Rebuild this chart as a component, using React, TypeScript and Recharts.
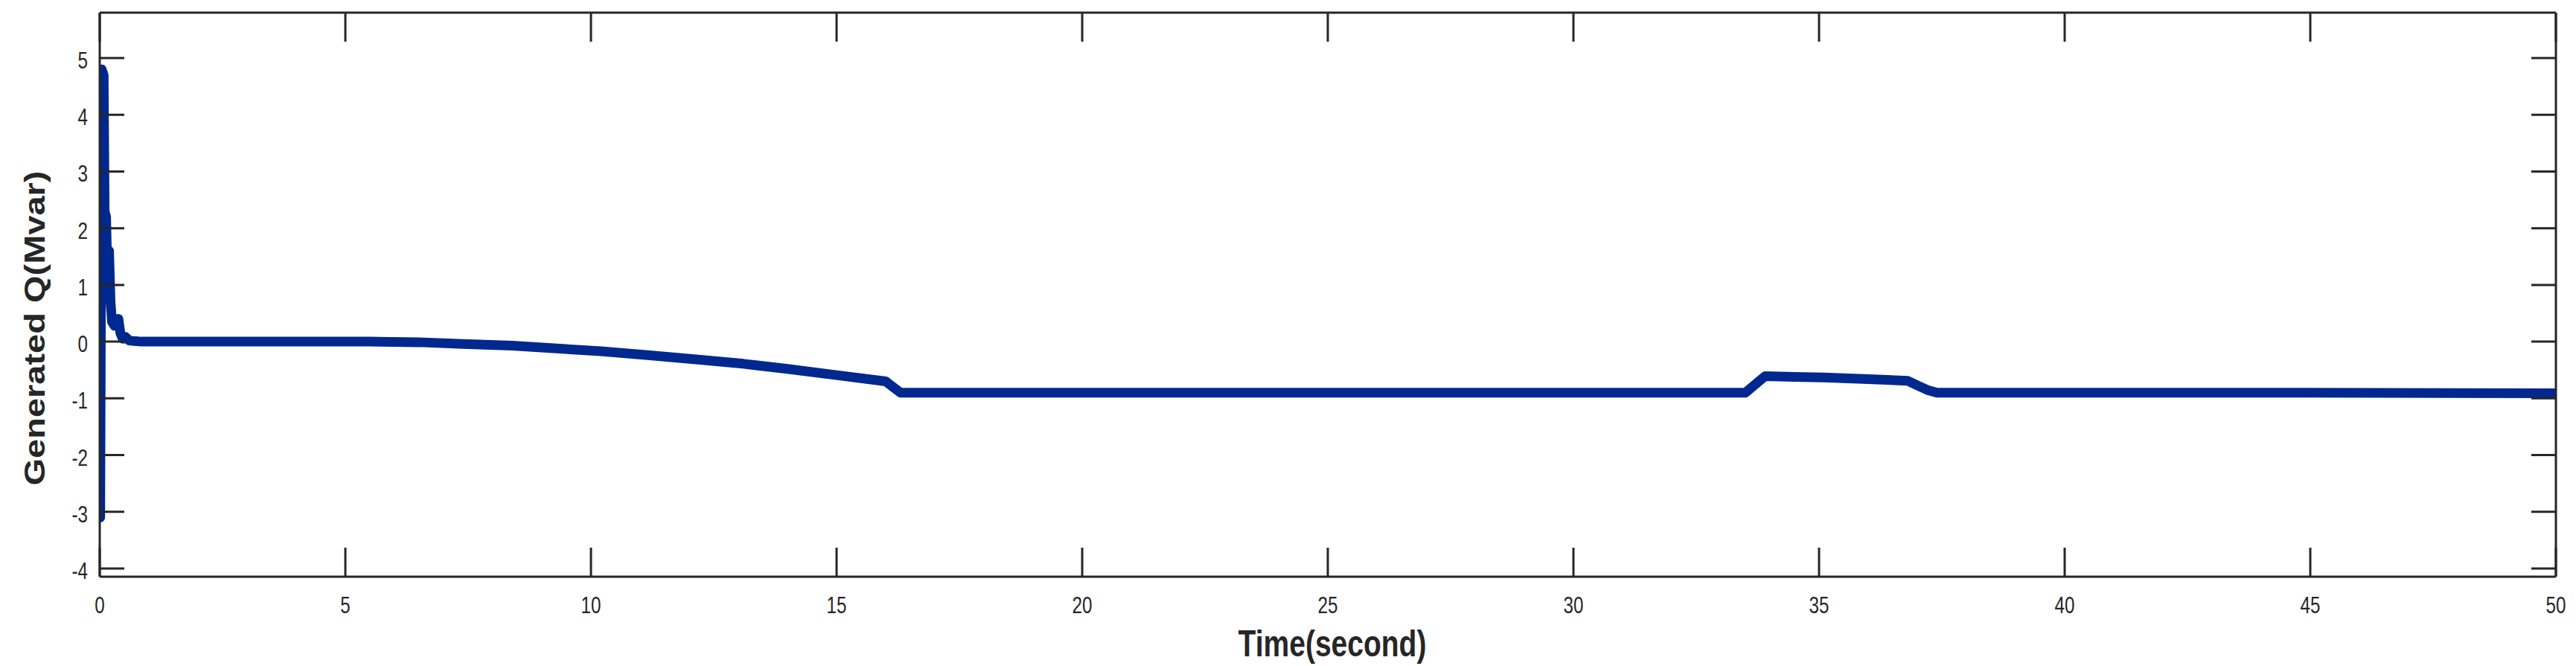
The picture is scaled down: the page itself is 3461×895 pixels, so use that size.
import { LineChart, Line, XAxis, YAxis, Label } from 'recharts'

// ── Data ─────────────────────────────────────────────────────────────────────

const timeSec = [
  0, 0.01, 0.04, 0.08, 0.1, 0.13, 0.16, 0.19, 0.22, 0.25, 0.3, 0.35, 0.38, 0.42,
  0.47, 0.53, 0.6, 0.7, 0.85, 1, 2, 3, 4, 5, 5.5, 6.5, 7.4, 8.4, 9.3, 10.2, 11.2,
  12.1, 13.1, 14, 15, 16, 16.15, 16.3, 20, 25, 30, 33.5, 33.9, 34.5, 35.1, 36,
  36.8, 37, 37.2, 37.4, 40, 45, 50,
]

const generatedQ = [
  0, -3.1, 4.8, 4.7, 2.3, 2.2, 1.0, 1.6, 0.7, 0.35, 0.28, 0.28, 0.4, 0.15,
  0.05, 0.08, 0.02, 0.01, 0, 0, 0, 0, 0, 0, 0, -0.01, -0.04, -0.07, -0.12, -0.17, -0.24,
  -0.31, -0.39, -0.48, -0.59, -0.7, -0.8, -0.9, -0.9, -0.9, -0.9, -0.9, -0.61, -0.62, -0.63, -0.66,
  -0.69, -0.77, -0.85, -0.9, -0.9, -0.9, -0.91,
]

const xTicks = [0, 5, 10, 15, 20, 25, 30, 35, 40, 45, 50]
const yTicks = [-4, -3, -2, -1, 0, 1, 2, 3, 4, 5]

const data = timeSec.map((t, i) => ({ t, q: generatedQ[i] }))

// ── Style ────────────────────────────────────────────────────────────────────

const INK = '#262626'
const LINE = '#00288e'
const FONT = "'Liberation Sans', Arial, sans-serif"
const SQUEEZE = 0.78
const yDomain: [number, number] = [-4.144, 5.8]

function XTick({ x, y, payload }: any) {
  return (
    <text
      transform={`translate(${x},${y}) scale(${SQUEEZE},1)`}
      textAnchor="middle"
      fontSize={31}
      fontFamily={FONT}
      fill={INK}
    >
      {payload.value}
    </text>
  )
}

function YTick({ x, y, payload }: any) {
  return (
    <text
      transform={`translate(${x},${y + 14}) scale(${SQUEEZE},1)`}
      textAnchor="end"
      fontSize={31}
      fontFamily={FONT}
      fill={INK}
    >
      {payload.value}
    </text>
  )
}

function XTitle({ viewBox }: any) {
  const cx = viewBox.x + viewBox.width / 2 + 6
  return (
    <text
      transform={`translate(${cx},${viewBox.y + 107}) scale(${SQUEEZE},1)`}
      textAnchor="middle"
      fontSize={50}
      fontWeight="bold"
      fontFamily={FONT}
      fill={INK}
    >
      Time(second)
    </text>
  )
}

function YTitle() {
  return (
    <text
      transform={`translate(60,441) scale(0.82,1) rotate(-90)`}
      textAnchor="middle"
      fontSize={47}
      fontWeight="bold"
      fontFamily={FONT}
      fill={INK}
    >
      Generated Q(Mvar)
    </text>
  )
}

const axisStroke = { stroke: INK, strokeWidth: 3 }
const noTick = () => <g />

export default function App() {
  return (
    <div style={{ position: 'absolute', left: 0, top: 0, width: 3461, height: 895, background: '#fff' }}>
      <LineChart width={3461} height={895} data={data} margin={{ top: 16, right: 26, bottom: 0, left: 0 }}>
        <XAxis
          dataKey="t"
          type="number"
          domain={[0, 50]}
          ticks={xTicks}
          allowDataOverflow
          height={120}
          tickSize={-39}
          tickMargin={88}
          axisLine={axisStroke}
          tickLine={axisStroke}
          tick={<XTick />}
        >
          <Label content={<XTitle />} />
        </XAxis>
        <XAxis
          xAxisId="top"
          dataKey="t"
          orientation="top"
          type="number"
          domain={[0, 50]}
          ticks={xTicks}
          allowDataOverflow
          height={1}
          tickSize={-39}
          axisLine={axisStroke}
          tickLine={axisStroke}
          tick={noTick}
        />
        <YAxis
          type="number"
          domain={yDomain}
          ticks={yTicks}
          allowDataOverflow
          width={134}
          tickSize={-33}
          tickMargin={49}
          axisLine={axisStroke}
          tickLine={axisStroke}
          tick={<YTick />}
        >
          <Label content={<YTitle />} />
        </YAxis>
        <YAxis
          yAxisId="right"
          orientation="right"
          type="number"
          domain={yDomain}
          ticks={yTicks}
          allowDataOverflow
          width={1}
          tickSize={-33}
          axisLine={axisStroke}
          tickLine={axisStroke}
          tick={noTick}
        />
        <Line
          type="linear"
          dataKey="q"
          stroke={LINE}
          strokeWidth={13}
          strokeLinejoin="round"
          strokeLinecap="round"
          dot={false}
          isAnimationActive={false}
        />
      </LineChart>
    </div>
  )
}
